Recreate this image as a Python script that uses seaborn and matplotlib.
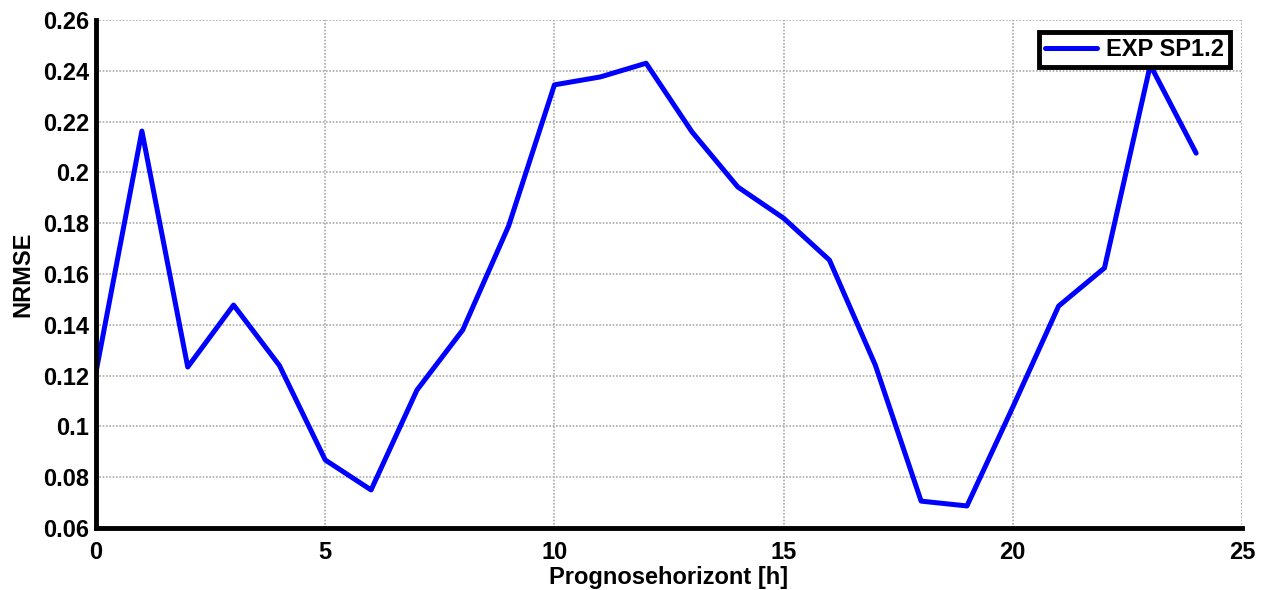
import matplotlib
matplotlib.use("Agg")
import matplotlib.pyplot as plt
import seaborn as sns
import pandas as pd

hours = list(range(25))
nrmse = [0.1215, 0.2163, 0.1234, 0.1478, 0.1240, 0.0868, 0.0750, 0.1143, 0.1380,
         0.1789, 0.2345, 0.2376, 0.2430, 0.2160, 0.1943, 0.1820, 0.1655, 0.1242,
         0.0706, 0.0687, 0.1076, 0.1474, 0.1624, 0.2423, 0.2076]
series_name = "EXP SP1.2"
yticks = [0.06, 0.08, 0.1, 0.12, 0.14, 0.16, 0.18, 0.2, 0.22, 0.24, 0.26]
ytick_labels = ["0.06", "0.08", "0.1", "0.12", "0.14", "0.16", "0.18", "0.2", "0.22", "0.24", "0.26"]
xticks = [0, 5, 10, 15, 20, 25]

sns.set_style("white")
plt.rcParams['font.family'] = ['Liberation Sans', 'DejaVu Sans']
plt.rcParams['font.weight'] = 'bold'
plt.rcParams['text.color'] = 'black'
plt.rcParams['axes.labelcolor'] = 'black'
plt.rcParams['xtick.color'] = 'black'
plt.rcParams['ytick.color'] = 'black'

df = pd.DataFrame({"h": hours, "v": nrmse, "s": series_name})

fig = plt.figure(figsize=(12.69, 5.90), dpi=100)
ax = fig.add_axes([0.0757, 0.105, 0.9030, 0.861])
sns.lineplot(data=df, x="h", y="v", hue="s", palette=["#0000ff"], linewidth=3.6, ax=ax)

ax.set_xlim(0, 25)
ax.set_ylim(0.06, 0.26)
ax.set_xticks(xticks)
ax.set_xticklabels([str(t) for t in xticks], fontsize=17, fontweight='bold')
ax.set_yticks(yticks)
ax.set_yticklabels(ytick_labels, fontsize=17, fontweight='bold')
ax.grid(True, color='#aaaaaa', linestyle=(0, (1, 1)), linewidth=1.2)
ax.tick_params(direction='in', length=9, width=3, colors='black')
ax.tick_params(axis='x', pad=9)
ax.tick_params(axis='y', pad=5)
for side in ['top', 'right']:
    ax.spines[side].set_visible(False)
for side in ['left', 'bottom']:
    ax.spines[side].set_linewidth(3.5)
    ax.spines[side].set_color('black')

ax.set_xlabel("Prognosehorizont [h]", fontsize=17, fontweight='bold', labelpad=2)
ax.set_ylabel("NRMSE", fontsize=17, fontweight='bold', labelpad=6)

leg = ax.legend(loc='upper right', fontsize=17, frameon=True, fancybox=False, framealpha=1,
                borderaxespad=0.5, handlelength=2.2, handletextpad=0.4, borderpad=0.25)
leg.get_frame().set_edgecolor('black')
leg.get_frame().set_linewidth(3.5)
for t in leg.get_texts():
    t.set_fontweight('bold')
    t.set_color('black')

fig.savefig("out.png", dpi=100)
